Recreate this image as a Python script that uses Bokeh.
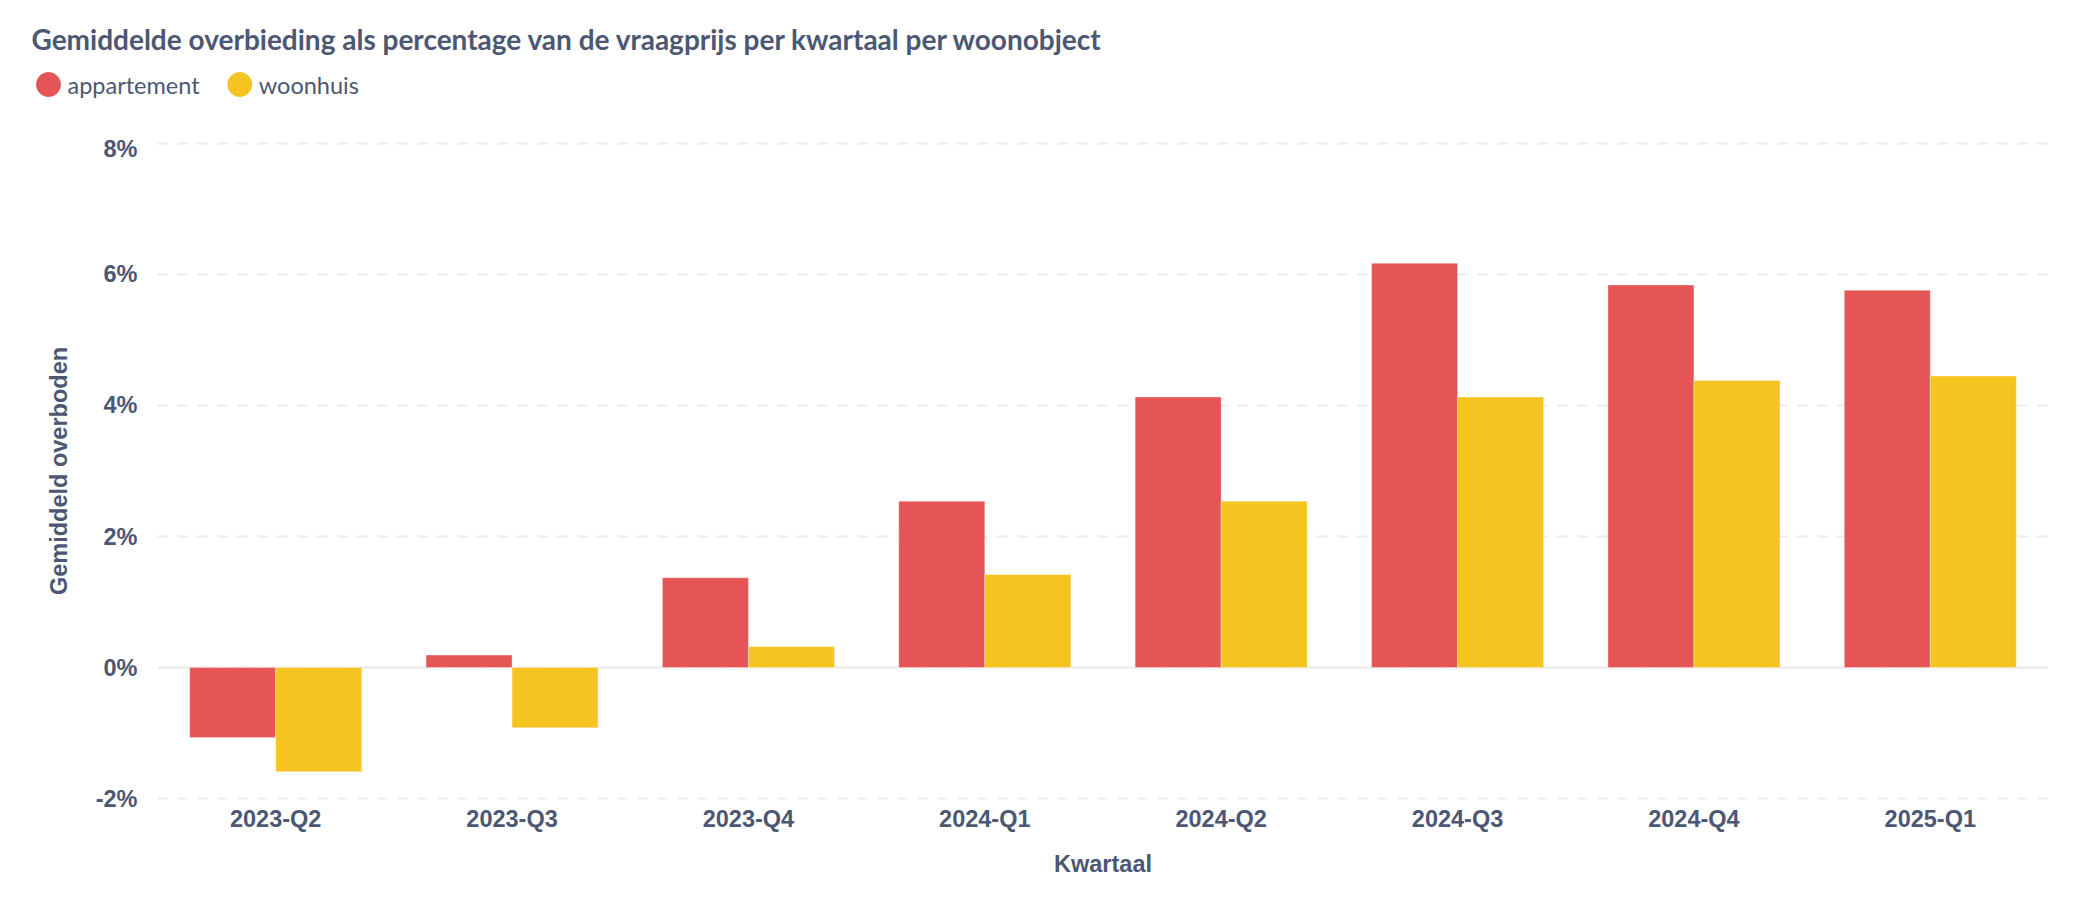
from bokeh.plotting import figure
from bokeh.layouts import column
from bokeh.models import (FactorRange, FixedTicker, PrintfTickFormatter, Span, Label,
                          ColumnDataSource, Range1d)
from bokeh.transform import dodge
from bokeh.embed import file_html
from bokeh.resources import INLINE

# ---- data ----
quarters = ["2023-Q2", "2023-Q3", "2023-Q4", "2024-Q1", "2024-Q2", "2024-Q3", "2024-Q4", "2025-Q1"]
appartement = [-1.07, 0.19, 1.37, 2.54, 4.13, 6.17, 5.84, 5.76]
woonhuis = [-1.59, -0.92, 0.32, 1.42, 2.54, 4.13, 4.38, 4.45]
series_names = ["appartement", "woonhuis"]
series_colors = ["#E65555", "#F6C420"]
y_ticks = [-2, 0, 2, 4, 6, 8]
title_text = "Gemiddelde overbieding als percentage van de vraagprijs per kwartaal per woonobject"
x_label = "Kwartaal"
y_label = "Gemiddeld overboden"

TEXT = "#4C5773"
GRID = "#EBEBEB"
W = 2088
HEAD_H = 135

# ---- header: title + legend (header data units = pixels) ----
head = figure(width=W, height=HEAD_H, x_range=Range1d(0, W), y_range=Range1d(HEAD_H, 0),
              output_backend="svg", toolbar_location=None,
              x_axis_location=None, y_axis_location=None,
              min_border=0, min_border_left=0, min_border_right=0,
              min_border_top=0, min_border_bottom=0)
head.grid.visible = False
head.outline_line_color = None
head.add_layout(Label(x=31, y=38.7, text=title_text, text_font="Lato",
                      text_font_style="bold", text_font_size="28px", text_color=TEXT,
                      text_baseline="middle"))
leg_x = [48, 239.3]          # legend swatch centres
leg_y = 84
head.scatter(x=leg_x, y=[leg_y] * len(leg_x), marker="circle", size=24,
             fill_color=series_colors, line_color=series_colors)
for name, lx in zip(series_names, leg_x):
    head.add_layout(Label(x=lx + 19, y=leg_y, text=name, text_font="Lato",
                          text_font_size="23.5px", text_color=TEXT, text_baseline="middle"))

# ---- main chart ----
src = ColumnDataSource(dict(q=quarters, appartement=appartement, woonhuis=woonhuis))

p = figure(x_range=FactorRange(*quarters), y_range=(-2.03, 8.03),
           frame_width=1891, frame_height=659,
           output_backend="svg", toolbar_location=None,
           min_border_left=157, min_border_right=40, min_border_top=6, min_border_bottom=100)
p.x_range.range_padding = 0
p.outline_line_color = None

bw = 0.364
p.vbar(x=dodge("q", -bw / 2, range=p.x_range), top="appartement", bottom=0, width=bw,
       source=src, fill_color=series_colors[0], line_color="white", line_alpha=0.35, line_width=1)
p.vbar(x=dodge("q", bw / 2, range=p.x_range), top="woonhuis", bottom=0, width=bw,
       source=src, fill_color=series_colors[1], line_color="white", line_alpha=0.35, line_width=1)

# grid
p.xgrid.grid_line_color = None
p.ygrid.ticker = FixedTicker(ticks=y_ticks)
p.ygrid.grid_line_color = GRID
p.ygrid.grid_line_width = 2
p.ygrid.grid_line_dash = "10 10"
p.add_layout(Span(location=0, dimension="width", line_color=GRID, line_width=2, level="underlay"))

# axes
p.yaxis.ticker = FixedTicker(ticks=y_ticks)
p.yaxis.formatter = PrintfTickFormatter(format="%d%%")
for ax in (p.xaxis[0], p.yaxis[0]):
    ax.axis_line_color = None
    ax.major_tick_line_color = None
    ax.minor_tick_line_color = None
    ax.major_tick_in = 0
    ax.major_tick_out = 0
    ax.major_label_text_font = "Liberation Sans"
    ax.major_label_text_font_style = "bold"
    ax.major_label_text_font_size = "23.5px"
    ax.major_label_text_color = TEXT
    ax.axis_label_text_font = "Liberation Sans"
    ax.axis_label_text_font_style = "bold"
    ax.axis_label_text_font_size = "23.5px"
    ax.axis_label_text_color = TEXT
p.yaxis.axis_label = y_label
p.yaxis.major_label_standoff = 20
p.yaxis.axis_label_standoff = 21
p.xaxis.axis_label = x_label
p.xaxis.major_label_standoff = 5
p.xaxis.axis_label_standoff = 16

layout = column(column(head), p, spacing=0)
open("out.html", "w").write(file_html(layout, INLINE))
